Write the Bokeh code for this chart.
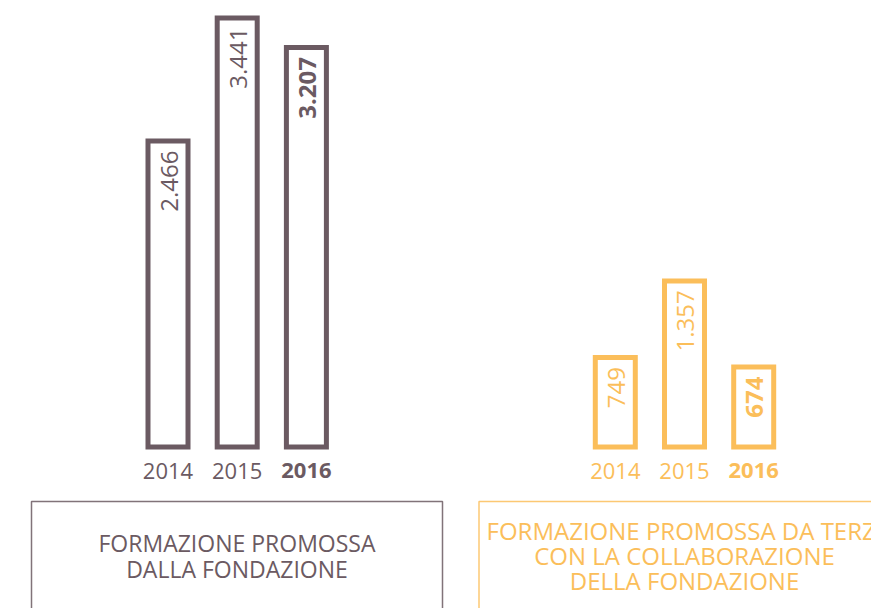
import math
from bokeh.plotting import figure
from bokeh.models import Range1d, ColumnDataSource
from bokeh.core.properties import value
from bokeh.embed import file_html
from bokeh.resources import INLINE

# ---- data ----
years = ["2014", "2015", "2016"]
fondazione = [2466, 3441, 3207]
terzi = [749, 1357, 674]
title_fondazione = ["FORMAZIONE PROMOSSA", "DALLA FONDAZIONE"]
title_terzi = ["FORMAZIONE PROMOSSA DA TERZI", "CON LA COLLABORAZIONE", "DELLA FONDAZIONE"]

MAUVE = "#6b5a62"
GOLD = "#fbbe5a"
FONT = "Open Sans"

# ---- layout ----
W, H = 871, 608
K = 0.1261          # pixels per unit
BASE = 449          # baseline position in pixels (from top)
LW = 5              # bar stroke width (px)
BAR_W = 45          # outer bar width (px)
STEP = 69.2


def dy(py):
    return (BASE - py) / K


p = figure(width=W, height=H, x_range=Range1d(0, W), y_range=Range1d(dy(H), dy(0)),
           output_backend="svg", toolbar_location=None,
           x_axis_type=None, y_axis_type=None, min_border=0)
p.outline_line_color = None
p.background_fill_color = "white"
p.border_fill_color = "white"


def fmt(v):
    return f"{v:,}".replace(",", ".")


def group(vals, x0, color, title_lines, box_left, box_right, title_x, title_ys, title_size):
    xs = [x0 + i * STEP for i in range(len(vals))]
    weights = ["normal"] * (len(vals) - 1) + ["bold"]
    src = ColumnDataSource(dict(
        x=xs, top=vals,
        inner_top=[v - LW / K for v in vals],
        inner_bottom=[LW / K] * len(vals),
        label=[fmt(v) for v in vals],
        year=years, weight=weights, zero=[0] * len(vals)))
    p.vbar(x="x", top="top", bottom=0, width=BAR_W, source=src,
           fill_color=color, line_color=None)
    p.vbar(x="x", top="inner_top", bottom="inner_bottom", width=BAR_W - 2 * LW,
           source=src, fill_color="white", line_color=None)
    p.text(x="x", y="top", text="label", source=src, angle=math.pi / 2,
           text_align="right", text_baseline="middle", y_offset=12, x_offset=1,
           text_font=value(FONT), text_font_size="24px",
           text_font_style="weight", text_color=color)
    p.text(x="x", y="zero", text="year", source=src,
           text_align="center", text_baseline="middle", y_offset=21,
           text_font=value(FONT), text_font_size="22px",
           text_font_style="weight", text_color=color)
    p.quad(left=[box_left], right=[box_right], top=[dy(501)], bottom=[dy(H + 60)],
           fill_color=None, line_color=color, line_width=1.5, line_alpha=0.85)
    p.text(x=[title_x] * len(title_lines), y=[dy(t) for t in title_ys],
           text=title_lines, text_align="center", text_baseline="middle",
           text_font=value(FONT), text_font_size=title_size, text_color=color)


group(fondazione, 167.5, MAUVE, title_fondazione, 31, 442, 236.5, [542.7, 568.3], "23px")
group(terzi, 614.8, GOLD, title_terzi, 478.5, W + 60, 684, [530, 555, 580], "24px")

open("out.html", "w").write(file_html(p, INLINE))
